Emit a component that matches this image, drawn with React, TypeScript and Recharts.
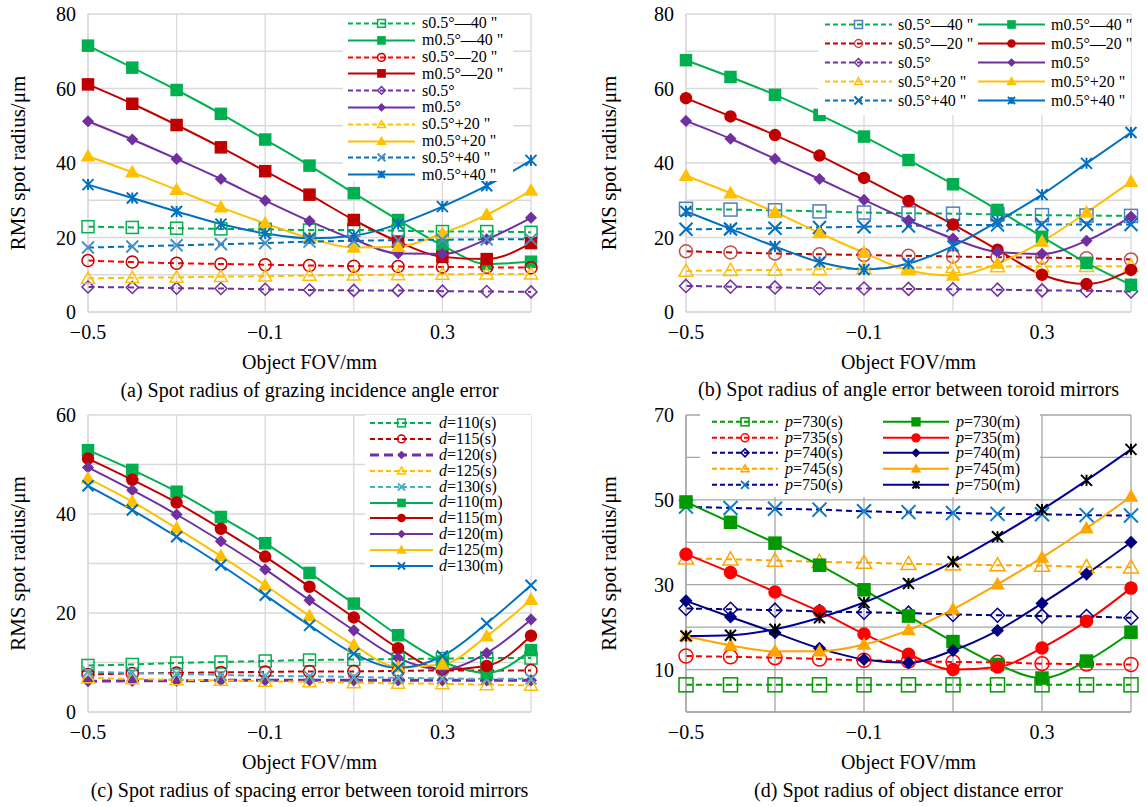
import React from "react";
import { LineChart, Line, XAxis, YAxis, CartesianGrid, Legend } from "recharts";

const FONT = "'Liberation Serif', 'Times New Roman', serif";

const FOV = [-0.5, -0.4, -0.3, -0.2, -0.1, 0, 0.1, 0.2, 0.3, 0.4, 0.5];
const X_TICKS = [-0.5, -0.3, -0.1, 0.1, 0.3, 0.5];
const X_LABELS = [-0.5, -0.1, 0.3];

// (a) grazing incidence angle error
const aS_m40 = [22.9, 22.7, 22.5, 22.3, 22.2, 22.0, 22.0, 21.8, 21.6, 21.6, 21.4];
const aM_m40 = [71.5, 65.6, 59.6, 53.2, 46.3, 39.3, 31.9, 24.7, 17.9, 12.9, 13.5];
const aS_m20 = [13.8, 13.4, 13.1, 12.9, 12.7, 12.5, 12.3, 12.2, 12.1, 12.0, 11.9];
const aM_m20 = [61.1, 55.9, 50.2, 44.2, 37.8, 31.5, 24.7, 18.9, 14.8, 14.2, 18.5];
const aS_0 = [6.7, 6.6, 6.4, 6.3, 6.1, 5.9, 5.8, 5.8, 5.6, 5.5, 5.4];
const aM_0 = [51.2, 46.3, 41.1, 35.7, 29.9, 24.4, 19.5, 15.7, 15.6, 19.5, 25.3];
const aS_p20 = [9.0, 9.2, 9.3, 9.5, 9.6, 9.8, 9.9, 10.0, 10.1, 10.2, 10.2];
const aM_p20 = [41.8, 37.5, 32.8, 28.1, 23.8, 19.8, 17.3, 17.5, 21.1, 26.1, 32.6];
const aS_p40 = [17.3, 17.6, 17.9, 18.2, 18.5, 18.9, 19.1, 19.3, 19.4, 19.5, 19.5];
const aM_p40 = [34.2, 30.6, 27.0, 23.6, 21.1, 19.8, 20.5, 23.6, 28.3, 33.9, 40.7];

// (b) angle error between toroid mirrors
const bS_m40 = [27.7, 27.5, 27.3, 27.0, 26.7, 26.5, 26.4, 26.2, 26.0, 25.9, 25.8];
const bM_m40 = [67.6, 63.1, 58.3, 52.9, 47.1, 40.8, 34.3, 27.4, 20.2, 13.2, 7.3];
const bS_m20 = [16.3, 16.0, 15.7, 15.5, 15.3, 15.1, 14.9, 14.7, 14.6, 14.4, 14.1];
const bM_m20 = [57.4, 52.5, 47.5, 42.0, 36.0, 29.8, 23.5, 16.7, 10.0, 7.5, 11.3];
const bS_0 = [7.0, 6.8, 6.6, 6.4, 6.3, 6.2, 6.1, 6.0, 5.8, 5.7, 5.5];
const bM_0 = [51.3, 46.5, 41.1, 35.7, 30.1, 24.6, 19.7, 16.1, 15.6, 19.1, 25.6];
const bS_p20 = [11.0, 11.2, 11.3, 11.5, 11.7, 11.9, 12.0, 12.2, 12.2, 12.3, 12.3];
const bM_p20 = [36.6, 31.9, 26.8, 21.2, 15.9, 11.2, 9.8, 13.0, 18.9, 26.7, 35.0];
const bS_p40 = [22.2, 22.3, 22.5, 22.7, 22.9, 23.1, 23.3, 23.4, 23.5, 23.5, 23.5];
const bM_p40 = [27.0, 22.3, 17.6, 13.4, 11.4, 13.0, 17.7, 24.3, 31.5, 39.9, 48.2];

// (c) spacing error between toroid mirrors
const cS110 = [9.4, 9.6, 9.9, 10.1, 10.3, 10.5, 10.6, 10.7, 10.8, 10.9, 10.9];
const cS115 = [7.6, 7.8, 7.9, 8.0, 8.1, 8.2, 8.2, 8.3, 8.4, 8.4, 8.4];
const cS120 = [6.2, 6.3, 6.3, 6.4, 6.4, 6.4, 6.4, 6.4, 6.4, 6.4, 6.4];
const cS125 = [6.9, 6.7, 6.5, 6.4, 6.2, 6.1, 5.9, 5.8, 5.7, 5.5, 5.4];
const cS130 = [8.1, 7.9, 7.7, 7.5, 7.3, 7.2, 7.1, 6.9, 6.8, 6.7, 6.7];
const cM110 = [52.9, 48.9, 44.5, 39.4, 34.1, 28.1, 21.9, 15.5, 10.2, 7.9, 12.5];
const cM115 = [51.2, 46.9, 42.3, 37.0, 31.4, 25.3, 19.1, 12.9, 8.6, 9.3, 15.4];
const cM120 = [49.4, 44.8, 39.9, 34.5, 28.8, 22.6, 16.5, 10.9, 8.6, 11.9, 18.7];
const cM125 = [47.2, 42.5, 37.1, 31.5, 25.6, 19.4, 13.5, 9.1, 9.6, 15.3, 22.7];
const cM130 = [45.7, 40.8, 35.4, 29.7, 23.6, 17.5, 11.8, 8.9, 11.3, 17.9, 25.6];

// (d) object distance error
const dS730 = [6.4, 6.4, 6.4, 6.4, 6.4, 6.4, 6.4, 6.4, 6.4, 6.4, 6.4];
const dM730 = [49.5, 44.7, 39.8, 34.6, 28.8, 22.6, 16.6, 11.2, 8.0, 12.0, 18.8];
const dS735 = [13.2, 13.0, 12.8, 12.5, 12.2, 12.0, 11.8, 11.7, 11.4, 11.3, 11.2];
const dM735 = [37.2, 32.9, 28.3, 23.7, 18.4, 13.6, 10.0, 10.6, 15.1, 21.4, 29.2];
const dS740 = [24.4, 24.2, 24.0, 23.7, 23.5, 23.3, 23.0, 22.8, 22.6, 22.5, 22.2];
const dM740 = [26.2, 22.4, 18.7, 15.0, 12.4, 11.6, 14.5, 19.2, 25.6, 32.5, 40.0];
const dS745 = [36.2, 36.0, 35.7, 35.4, 35.2, 34.9, 34.8, 34.6, 34.5, 34.2, 34.1];
const dM745 = [17.9, 15.7, 14.3, 14.3, 15.9, 19.3, 24.2, 30.1, 36.4, 43.3, 50.8];
const dS750 = [48.4, 48.1, 47.9, 47.7, 47.3, 47.1, 46.9, 46.7, 46.6, 46.4, 46.3];
const dM750 = [17.9, 18.1, 19.5, 22.2, 25.8, 30.3, 35.4, 41.3, 47.7, 54.6, 61.9];

type Shape = "square" | "circle" | "diamond" | "triangle" | "x" | "star";

type Series = {
  key: string;
  label: string;
  italic?: boolean;
  values: number[];
  color: string;
  marker: string;
  shape: Shape;
  filled: boolean;
  size: number;
  dashed: boolean;
  width?: number;
  dash?: string;
};

const Marker = ({ cx, cy, shape, color, filled, size }: any) => {
  if (cx == null || cy == null) return null;
  const h = size / 2;
  const fill = filled ? color : "none";
  const sw = 1.5;
  switch (shape) {
    case "square":
      return <rect x={cx - h} y={cy - h} width={size} height={size} fill={fill} stroke={color} strokeWidth={sw} />;
    case "circle":
      return <circle cx={cx} cy={cy} r={h} fill={fill} stroke={color} strokeWidth={sw} />;
    case "diamond":
      return (
        <polygon
          points={`${cx},${cy - h} ${cx + h},${cy} ${cx},${cy + h} ${cx - h},${cy}`}
          fill={fill}
          stroke={color}
          strokeWidth={sw}
        />
      );
    case "triangle":
      return (
        <polygon
          points={`${cx},${cy - h} ${cx + h},${cy + h * 0.75} ${cx - h},${cy + h * 0.75}`}
          fill={fill}
          stroke={color}
          strokeWidth={sw}
        />
      );
    case "x":
      return (
        <path
          d={`M${cx - h},${cy - h}L${cx + h},${cy + h}M${cx - h},${cy + h}L${cx + h},${cy - h}`}
          stroke={color}
          strokeWidth={2}
          fill="none"
        />
      );
    default:
      return (
        <path
          d={`M${cx - h},${cy - h}L${cx + h},${cy + h}M${cx - h},${cy + h}L${cx + h},${cy - h}M${cx},${cy - h}L${cx},${cy + h}`}
          stroke={color}
          strokeWidth={2}
          fill="none"
        />
      );
  }
};

const G = "#00b050";
const DR = "#c00000";
const R = "#ff0000";
const P = "#7030a0";
const Y = "#ffc000";
const B = "#0070c0";

const seriesA: Series[] = [
  { key: "s1", label: "s0.5°—40 \"", values: aS_m40, color: G, marker: G, shape: "square", filled: false, size: 12, dashed: true },
  { key: "m1", label: "m0.5°—40 \"", values: aM_m40, color: G, marker: G, shape: "square", filled: true, size: 11, dashed: false },
  { key: "s2", label: "s0.5°—20 \"", values: aS_m20, color: R, marker: DR, shape: "circle", filled: false, size: 12, dashed: true },
  { key: "m2", label: "m0.5°—20 \"", values: aM_m20, color: DR, marker: DR, shape: "square", filled: true, size: 11, dashed: false },
  { key: "s3", label: "s0.5°", values: aS_0, color: P, marker: P, shape: "diamond", filled: false, size: 12, dashed: true },
  { key: "m3", label: "m0.5°", values: aM_0, color: P, marker: P, shape: "diamond", filled: true, size: 10, dashed: false },
  { key: "s4", label: "s0.5°+20 \"", values: aS_p20, color: Y, marker: Y, shape: "triangle", filled: false, size: 13, dashed: true },
  { key: "m4", label: "m0.5°+20 \"", values: aM_p20, color: Y, marker: Y, shape: "triangle", filled: true, size: 12, dashed: false },
  { key: "s5", label: "s0.5°+40 \"", values: aS_p40, color: B, marker: "#4a8fc2", shape: "x", filled: false, size: 12, dashed: true },
  { key: "m5", label: "m0.5°+40 \"", values: aM_p40, color: B, marker: B, shape: "star", filled: false, size: 11, dashed: false },
];

const seriesB: Series[] = [
  { key: "s1", label: "s0.5°—40 \"", values: bS_m40, color: G, marker: "#4f7fbd", shape: "square", filled: false, size: 13, dashed: true },
  { key: "s2", label: "s0.5°—20 \"", values: bS_m20, color: DR, marker: "#c0504d", shape: "circle", filled: false, size: 13, dashed: true },
  { key: "s3", label: "s0.5°", values: bS_0, color: P, marker: P, shape: "diamond", filled: false, size: 13, dashed: true },
  { key: "s4", label: "s0.5°+20 \"", values: bS_p20, color: Y, marker: Y, shape: "triangle", filled: false, size: 14, dashed: true },
  { key: "s5", label: "s0.5°+40 \"", values: bS_p40, color: B, marker: B, shape: "x", filled: false, size: 13, dashed: true },
  { key: "m1", label: "m0.5°—40 \"", values: bM_m40, color: G, marker: G, shape: "square", filled: true, size: 11, dashed: false },
  { key: "m2", label: "m0.5°—20 \"", values: bM_m20, color: DR, marker: DR, shape: "circle", filled: true, size: 11, dashed: false },
  { key: "m3", label: "m0.5°", values: bM_0, color: P, marker: P, shape: "diamond", filled: true, size: 10, dashed: false },
  { key: "m4", label: "m0.5°+20 \"", values: bM_p20, color: Y, marker: Y, shape: "triangle", filled: true, size: 12, dashed: false },
  { key: "m5", label: "m0.5°+40 \"", values: bM_p40, color: B, marker: B, shape: "star", filled: false, size: 11, dashed: false },
];

const seriesC: Series[] = [
  { key: "s1", label: "d=110(s)", italic: true, values: cS110, color: G, marker: G, shape: "square", filled: false, size: 12, dashed: true },
  { key: "s2", label: "d=115(s)", italic: true, values: cS115, color: DR, marker: DR, shape: "circle", filled: false, size: 12, dashed: true },
  { key: "s3", label: "d=120(s)", italic: true, values: cS120, color: P, marker: P, shape: "diamond", filled: true, size: 10, dashed: true, width: 3, dash: "9 5" },
  { key: "s4", label: "d=125(s)", italic: true, values: cS125, color: Y, marker: Y, shape: "triangle", filled: false, size: 13, dashed: true },
  { key: "s5", label: "d=130(s)", italic: true, values: cS130, color: "#4bacc6", marker: "#4bacc6", shape: "x", filled: false, size: 11, dashed: true },
  { key: "m1", label: "d=110(m)", italic: true, values: cM110, color: G, marker: G, shape: "square", filled: true, size: 11, dashed: false },
  { key: "m2", label: "d=115(m)", italic: true, values: cM115, color: DR, marker: DR, shape: "circle", filled: true, size: 11, dashed: false },
  { key: "m3", label: "d=120(m)", italic: true, values: cM120, color: P, marker: P, shape: "diamond", filled: true, size: 10, dashed: false },
  { key: "m4", label: "d=125(m)", italic: true, values: cM125, color: Y, marker: Y, shape: "triangle", filled: true, size: 12, dashed: false },
  { key: "m5", label: "d=130(m)", italic: true, values: cM130, color: B, marker: B, shape: "x", filled: false, size: 11, dashed: false },
];

const DG = "#009900";
const NV = "#000080";
const OR = "#ffa500";
const NB = "#0000a0";

const seriesD: Series[] = [
  { key: "s1", label: "p=730(s)", italic: true, values: dS730, color: DG, marker: DG, shape: "square", filled: false, size: 14, dashed: true },
  { key: "s2", label: "p=735(s)", italic: true, values: dS735, color: R, marker: R, shape: "circle", filled: false, size: 14, dashed: true },
  { key: "s3", label: "p=740(s)", italic: true, values: dS740, color: NV, marker: NV, shape: "diamond", filled: false, size: 14, dashed: true },
  { key: "s4", label: "p=745(s)", italic: true, values: dS745, color: OR, marker: OR, shape: "triangle", filled: false, size: 15, dashed: true },
  { key: "s5", label: "p=750(s)", italic: true, values: dS750, color: NB, marker: "#0a7cc4", shape: "x", filled: false, size: 14, dashed: true },
  { key: "m1", label: "p=730(m)", italic: true, values: dM730, color: DG, marker: DG, shape: "square", filled: true, size: 12, dashed: false },
  { key: "m2", label: "p=735(m)", italic: true, values: dM735, color: R, marker: R, shape: "circle", filled: true, size: 12, dashed: false },
  { key: "m3", label: "p=740(m)", italic: true, values: dM740, color: NV, marker: NV, shape: "diamond", filled: true, size: 11, dashed: false },
  { key: "m4", label: "p=745(m)", italic: true, values: dM745, color: OR, marker: OR, shape: "triangle", filled: true, size: 12, dashed: false },
  { key: "m5", label: "p=750(m)", italic: true, values: dM750, color: NB, marker: "#000000", shape: "star", filled: false, size: 11, dashed: false },
];

const fmtX = (v: number) => {
  if (!X_LABELS.some((l) => Math.abs(l - v) < 1e-9)) return "";
  return v < 0 ? "\u2212" + Math.abs(v) : String(v);
};

type LegendCfg = {
  left: number;
  top: number;
  width: number;
  height: number;
  rowH: number;
  cols: number[];
  sampleW: number;
  gap: number;
  rows: number;
};

const LegendBox = ({ series, cfg }: { series: Series[]; cfg: LegendCfg }) => (
  <div style={{ position: "relative", width: cfg.width, height: cfg.height, fontFamily: FONT, fontSize: 16, color: "#000" }}>
    {series.map((s, i) => {
      const col = Math.floor(i / cfg.rows);
      const row = i % cfg.rows;
      const mid = cfg.sampleW / 2;
      return (
        <div
          key={s.key}
          style={{
            position: "absolute",
            left: cfg.cols[col],
            top: row * cfg.rowH,
            height: cfg.rowH,
            display: "flex",
            alignItems: "center",
            whiteSpace: "nowrap",
          }}
        >
          <svg width={cfg.sampleW} height={cfg.rowH} style={{ display: "block" }}>
            <line
              x1={0}
              x2={cfg.sampleW}
              y1={cfg.rowH / 2}
              y2={cfg.rowH / 2}
              stroke={s.color}
              strokeWidth={s.width || 2}
              strokeDasharray={s.dashed ? s.dash || "5 3" : undefined}
            />
            <Marker cx={mid} cy={cfg.rowH / 2} shape={s.shape} color={s.marker} filled={s.filled} size={Math.min(8, s.size * 0.65)} />
          </svg>
          <span style={{ marginLeft: cfg.gap, lineHeight: 1 }}>
            {s.italic ? (
              <>
                <i>{s.label[0]}</i>
                {s.label.slice(1)}
              </>
            ) : (
              s.label
            )}
          </span>
        </div>
      );
    })}
  </div>
);

type PanelProps = {
  left: number;
  top: number;
  width: number;
  height: number;
  margin: { top: number; right: number; left: number; bottom: number };
  yWidth: number;
  yMax: number;
  yFmt: (v: number) => string;
  yTitleOffset: number;
  series: Series[];
  legend: LegendCfg;
  grid: string;
  caption: string;
  captionY: number;
};

const Panel = (p: PanelProps) => {
  const data = FOV.map((fov, i) => {
    const row: any = { fov };
    p.series.forEach((s) => (row[s.key] = s.values[i]));
    return row;
  });
  const yTicks: number[] = [];
  for (let v = 0; v <= p.yMax; v += 10) yTicks.push(v);
  const plotL = p.margin.left + p.yWidth;
  const plotR = p.width - p.margin.right;
  return (
    <div style={{ position: "absolute", left: p.left, top: p.top, width: p.width, height: p.height }}>
      <LineChart width={p.width} height={p.height} data={data} margin={p.margin}>
        <CartesianGrid stroke={p.grid} strokeWidth={1.3} />
        <XAxis
          dataKey="fov"
          type="number"
          domain={[-0.5, 0.5]}
          ticks={X_TICKS}
          interval={0}
          tickFormatter={fmtX}
          tickLine={false}
          tickSize={0}
          tickMargin={13}
          axisLine={{ stroke: p.grid, strokeWidth: 1.3 }}
          height={p.height - p.margin.top - p.margin.bottom - (p.height - p.margin.bottom - 88 - p.margin.top) }
          tick={{ fontSize: 20, fill: "#000", fontFamily: FONT }}
          label={{ value: "Object FOV/mm", position: "insideTop", offset: 43, style: { fontSize: 20, fill: "#000", fontFamily: FONT } }}
        />
        <YAxis
          width={p.yWidth}
          domain={[0, p.yMax]}
          ticks={yTicks}
          interval={0}
          tickFormatter={p.yFmt}
          tickLine={false}
          tickSize={0}
          tickMargin={12}
          axisLine={{ stroke: p.grid, strokeWidth: 1.3 }}
          tick={{ fontSize: 20, fill: "#000", fontFamily: FONT }}
          label={{
            value: "RMS spot radius/μm",
            angle: -90,
            position: "insideLeft",
            offset: p.yTitleOffset,
            style: { fontSize: 21, fill: "#000", fontFamily: FONT, textAnchor: "middle" },
          }}
        />
        <Legend
          layout="vertical"
          align="center"
          verticalAlign="middle"
          wrapperStyle={{ left: p.legend.left - p.left, top: p.legend.top - p.top, width: p.legend.width, height: p.legend.height, background: "#fff" }}
          content={() => <LegendBox series={p.series} cfg={p.legend} />}
        />
        {p.series.map((s) => (
          <Line
            key={s.key}
            dataKey={s.key}
            type="monotone"
            stroke={s.color}
            strokeWidth={s.width || 2}
            strokeDasharray={s.dashed ? s.dash || "6 4" : undefined}
            isAnimationActive={false}
            dot={(d: any) => (
              <Marker key={`${s.key}-${d.index}`} cx={d.cx} cy={d.cy} shape={s.shape} color={s.marker} filled={s.filled} size={s.size} />
            )}
            activeDot={false}
          />
        ))}
      </LineChart>
      <div
        style={{
          position: "absolute",
          left: plotL - 100,
          width: plotR - plotL + 200,
          top: p.captionY - p.top - 12,
          textAlign: "center",
          fontFamily: FONT,
          fontSize: 20,
          lineHeight: "24px",
          whiteSpace: "nowrap",
        }}
      >
        {p.caption}
      </div>
    </div>
  );
};

const fmtY20 = (v: number) => (v % 20 === 0 ? String(v) : "");
const fmtYD = (v: number) => (v > 0 && (v - 10) % 20 === 0 ? String(v) : "");

export default function App() {
  return (
    <div style={{ position: "absolute", left: 0, top: 0, width: 1147, height: 807, background: "#fff", fontFamily: FONT }}>
      <Panel
        left={0}
        top={0}
        width={560}
        height={400}
        margin={{ top: 14, right: 29, left: 0, bottom: 0 }}
        yWidth={88}
        yMax={80}
        yFmt={fmtY20}
        yTitleOffset={18}
        series={seriesA}
        legend={{ left: 343, top: 15, width: 170, height: 166, rowH: 16.8, cols: [5], sampleW: 67, gap: 7, rows: 10 }}
        grid="#d9d9d9"
        caption="(a) Spot radius of grazing incidence angle error"
        captionY={390}
      />
      <Panel
        left={590}
        top={0}
        width={557}
        height={400}
        margin={{ top: 14, right: 16, left: 0, bottom: 0 }}
        yWidth={96}
        yMax={80}
        yFmt={fmtY20}
        yTitleOffset={19}
        series={seriesB}
        legend={{ left: 818, top: 15, width: 313, height: 100, rowH: 19, cols: [7, 160], sampleW: 67, gap: 6, rows: 5 }}
        grid="#d9d9d9"
        caption="(b) Spot radius of angle error between toroid mirrors"
        captionY={389}
      />
      <Panel
        left={0}
        top={400}
        width={560}
        height={400}
        margin={{ top: 15, right: 29, left: 0, bottom: 0 }}
        yWidth={88}
        yMax={60}
        yFmt={fmtY20}
        yTitleOffset={18}
        series={seriesC}
        legend={{ left: 365, top: 415, width: 166, height: 160, rowH: 15.9, cols: [5], sampleW: 63, gap: 6, rows: 10 }}
        grid="#d9d9d9"
        caption="(c) Spot radius of spacing error between toroid mirrors"
        captionY={790}
      />
      <Panel
        left={590}
        top={400}
        width={557}
        height={400}
        margin={{ top: 15, right: 16, left: 0, bottom: 0 }}
        yWidth={96}
        yMax={70}
        yFmt={fmtYD}
        yTitleOffset={19}
        series={seriesD}
        legend={{ left: 700, top: 414, width: 340, height: 83, rowH: 15.7, cols: [12, 183], sampleW: 66, gap: 7, rows: 5 }}
        grid="#a6a6a6"
        caption="(d) Spot radius of object distance error"
        captionY={790}
      />
    </div>
  );
}
